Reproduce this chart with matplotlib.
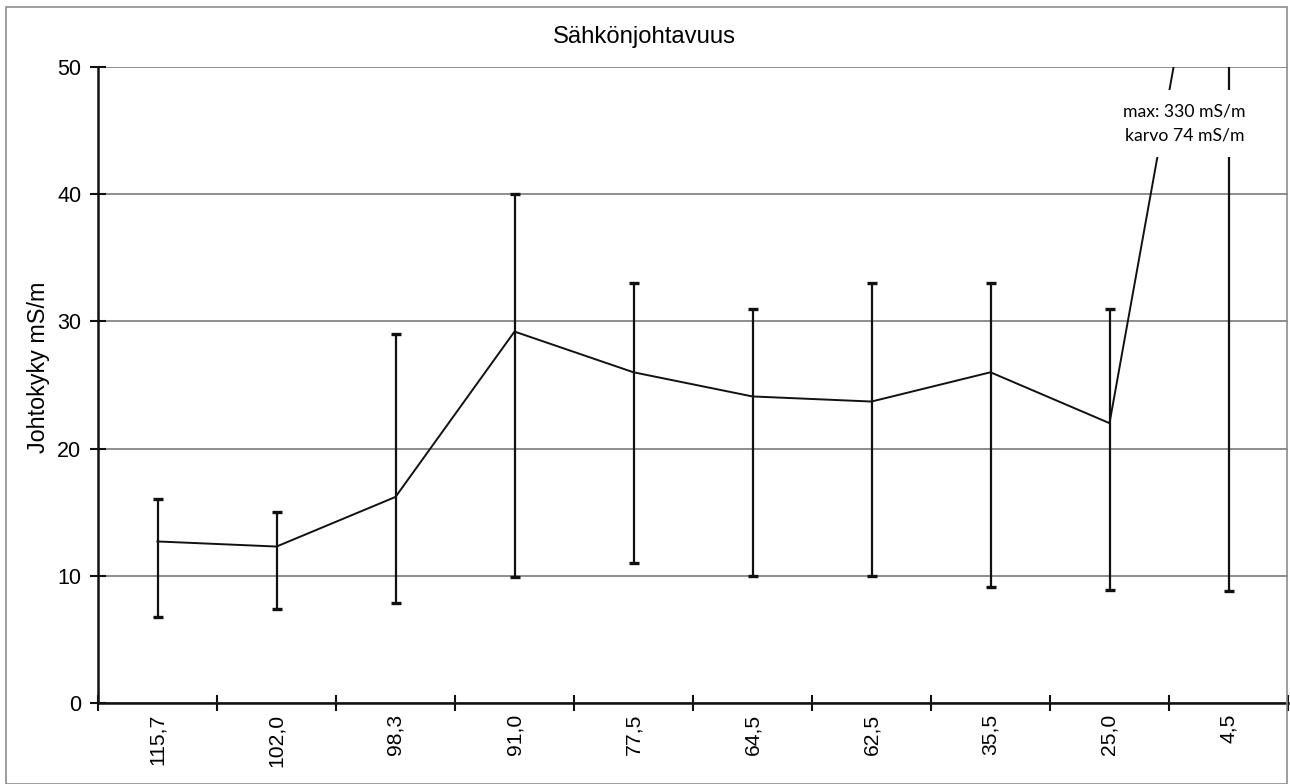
import matplotlib
matplotlib.use("Agg")
import matplotlib.pyplot as plt
from matplotlib.patches import Rectangle

categories = ["115,7", "102,0", "98,3", "91,0", "77,5", "64,5", "62,5", "35,5", "25,0", "4,5"]
mean_values = [12.7, 12.3, 16.2, 29.2, 26.0, 24.1, 23.7, 26.0, 22.0, 74.0]
min_values = [6.8, 7.4, 7.9, 9.9, 11.0, 10.0, 10.0, 9.1, 8.9, 8.8]
max_values = [16.0, 15.0, 29.0, 40.0, 33.0, 31.0, 33.0, 33.0, 31.0, 330.0]
y_ticks = [0, 10, 20, 30, 40, 50]

plt.rcParams['font.family'] = ['Liberation Sans', 'DejaVu Sans']

fig = plt.figure(figsize=(12.9, 7.84), dpi=100)
fig.patch.set_facecolor("white")
ax = fig.add_axes([98/1290, 81/784, 1190/1290, 636/784])

x = list(range(len(categories)))
lower = [m - lo for m, lo in zip(mean_values, min_values)]
upper = [hi - m for m, hi in zip(mean_values, max_values)]

ax.errorbar(x, mean_values, yerr=[lower, upper], fmt='none', ecolor='#111111',
            elinewidth=1.6, capsize=3.8, capthick=2.4, zorder=3)
ax.plot(x, mean_values, color='#111111', linewidth=1.4, zorder=4)

ax.set_xlim(-0.5, len(categories) - 0.5)
ax.set_ylim(0, 50)
ax.set_yticks(y_ticks)
ax.set_yticklabels([str(v) for v in y_ticks], fontsize=15.5)
ax.set_xticks([i - 0.5 for i in range(len(categories) + 1)])
ax.set_xticklabels([])
ax.set_xticks(x, minor=True)
ax.set_xticklabels(categories, minor=True, rotation=90, fontsize=15.2)
ax.tick_params(axis='x', which='minor', length=0, pad=8)
ax.tick_params(axis='x', which='major', direction='inout', length=12, width=1.5, color='#111111')
ax.tick_params(axis='y', direction='inout', length=12, width=1.5, color='#111111', pad=6)

ax.grid(axis='y', color='#7a7a7a', linewidth=1.2, zorder=1)
ax.set_axisbelow(True)
for s in ['top', 'right']:
    ax.spines[s].set_visible(False)
for s in ['left', 'bottom']:
    ax.spines[s].set_linewidth(1.8)
    ax.spines[s].set_color('#111111')

fig.text(38.5/1290, 1 - 367/784, "Johtokyky mS/m", rotation=90, ha='center', va='center',
         fontsize=16.8)
fig.text(644/1290, 1 - 37/784, "Sähkönjohtavuus", ha='center', va='center', fontsize=17.2)

ax.text(8.63, 45.56, "max: 330 mS/m\nkarvo 74 mS/m", ha='center', va='center',
        fontsize=12.7, family=['Lato', 'DejaVu Sans'], linespacing=1.6, zorder=6,
        bbox=dict(boxstyle='square,pad=0.75', facecolor='white', edgecolor='none'))

fig.patches.append(Rectangle((6/1290, 0), 1281/1290, 777/784, transform=fig.transFigure,
                             fill=False, edgecolor='#8c8c8c', linewidth=1.2))

fig.savefig("out.png", dpi=100, facecolor='white')
